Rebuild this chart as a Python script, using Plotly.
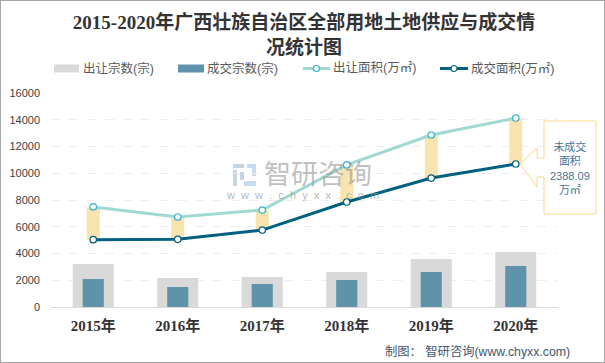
import plotly.graph_objects as go

W, H = 605, 363
years = ["2015年", "2016年", "2017年", "2018年", "2019年", "2020年"]
supply_count = [3215, 2170, 2240, 2620, 3590, 4110]
deal_count = [2090, 1495, 1720, 2020, 2620, 3065]
supply_area = [7480, 6730, 7250, 10620, 12860, 14130]
deal_area = [5030, 5060, 5750, 7850, 9640, 10690]
y_ticks = [0, 2000, 4000, 6000, 8000, 10000, 12000, 14000, 16000]
gap = [round(a - b, 2) for a, b in zip(supply_area, deal_area)]
legend_labels = ["出让宗数(宗)", "成交宗数(宗)", "出让面积(万㎡)", "成交面积(万㎡)"]
title_lines = ["2015-2020年广西壮族自治区全部用地土地供应与成交情", "况统计图"]
callout_text = "未成交<br>面积<br>2388.09<br>万㎡"
source_text = "制图： 智研咨询(www.chyxx.com)"

SANS = "'Liberation Sans','Noto Sans CJK SC',sans-serif"
SERIF = "'Liberation Serif','Noto Sans CJK SC',serif"
GRAY, BLUE, TEAL, NAVY, YELLOW = "#d9d9d9", "#5f93aa", "#a0d8d2", "#00607f", "#f9e3ae"


def px(x):
    return x / W


def py(y):
    return 1 - y / H


fig = go.Figure()
fig.add_bar(x=years, y=supply_count, width=0.486, marker=dict(color=GRAY, line_width=0), name=legend_labels[0])
fig.add_bar(x=years, y=deal_count, width=0.25, marker=dict(color=BLUE, line_width=0), name=legend_labels[1])
fig.add_bar(x=years, y=gap, base=deal_area, width=0.154, marker=dict(color=YELLOW, line_width=0), name="未成交面积")
fig.add_scatter(x=years, y=supply_area, mode="lines+markers", name=legend_labels[2],
                line=dict(color=TEAL, width=3),
                marker=dict(size=6.5, color="white", line=dict(color="#35b3d6", width=1.2)))
fig.add_scatter(x=years, y=deal_area, mode="lines+markers", name=legend_labels[3],
                line=dict(color=NAVY, width=3),
                marker=dict(size=6.5, color="white", line=dict(color=NAVY, width=1.2)))

shapes, annotations = [], []


def text(x, y, s, size, color, font=SANS, anchor="center", **kw):
    annotations.append(dict(xref="paper", yref="paper", x=px(x), y=py(y), text=s, showarrow=False,
                            xanchor=anchor, yanchor="middle", xshift=0, borderpad=0, borderwidth=0,
                            font=dict(family=font, size=size, color=color), **kw))


# frame
shapes.append(dict(type="rect", xref="paper", yref="paper", x0=0, x1=1, y0=0, y1=1,
                   line=dict(color="#a6a6a6", width=2), layer="above"))

# title second line
text(W / 2 + 1.5, 47, "<b>" + title_lines[1] + "</b>", 19, "#333333", SERIF)


# legend
def swatch(x0, x1, color):
    shapes.append(dict(type="rect", xref="paper", yref="paper", x0=px(x0), x1=px(x1), y0=py(72.5), y1=py(64.5),
                       fillcolor=color, line_width=0))


def line_key(x0, x1, color, edge):
    shapes.append(dict(type="line", xref="paper", yref="paper", x0=px(x0), x1=px(x1), y0=py(68.5), y1=py(68.5),
                       line=dict(color=color, width=3)))
    c = (x0 + x1) / 2
    shapes.append(dict(type="circle", xref="paper", yref="paper", x0=px(c - 3), x1=px(c + 3), y0=py(71.5), y1=py(65.5),
                       fillcolor="white", line=dict(color=edge, width=1.2)))


swatch(54, 79, GRAY)
swatch(178, 204, BLUE)
line_key(303, 330, TEAL, "#35b3d6")
line_key(440, 468, NAVY, NAVY)
for lx, lab in zip([83, 207, 333, 471], legend_labels):
    text(lx, 68.5, lab, 12.5, "#595959", anchor="left")

# callout
pts = [(544, 121), (596, 121), (596, 214), (544, 214), (544, 177), (537, 177), (537, 187), (520, 164),
       (537, 148), (537, 158), (544, 158)]
path = "M " + " L ".join(f"{px(a):.5f},{py(b):.5f}" for a, b in pts) + " Z"
shapes.append(dict(type="path", xref="paper", yref="paper", path=path, fillcolor="white",
                   line=dict(color="#fbd98a", width=1), layer="above"))
text(570, 167.5, callout_text, 11, "#44749a")

# watermark
for x0, y0, x1, y1, col in [(233, 164, 244, 168, "#c9d2e3"), (233, 170, 237, 186, "#c9d2e3"),
                            (240, 172, 244, 180, "#c9d2e3"), (247, 164, 256, 168, "#c5dcef"),
                            (252, 168, 256, 176, "#c5dcef"), (244, 181, 256, 186, "#c5dcef")]:
    shapes.append(dict(type="rect", xref="paper", yref="paper", x0=px(x0), x1=px(x1), y0=py(y1), y1=py(y0),
                       fillcolor=col, line_width=0, layer="below"))
text(318, 175, "智研咨询", 27, "rgba(150,150,150,0.6)")
text(302, 195, "w  w  w  .  c  h  y  x  x  .  c  o  m".replace(" ", "&nbsp;"), 11, "rgba(150,150,150,0.7)")

# source
text(385, 351, source_text, 12.3, "#44546a", anchor="left")

fig.update_layout(
    width=W, height=H, autosize=False,
    margin=dict(l=0, r=0, t=0, b=0),
    paper_bgcolor="white", plot_bgcolor="white",
    barmode="overlay", showlegend=False, hovermode=False,
    title=dict(text="<b>" + title_lines[0] + "</b>", x=px(W / 2 + 1.5), xanchor="center", xref="paper",
               y=py(22.5), yanchor="middle", yref="container", automargin=False,
               font=dict(family=SERIF, size=19, color="#333333")),
    xaxis=dict(domain=[px(51), px(558)], type="category", showgrid=False, showline=True, linecolor="#d9d9d9",
               linewidth=1, ticks="", anchor="y", automargin=False, ticklabelstandoff=5,
               tickfont=dict(family=SERIF, size=15, color="#333333", weight="bold")),
    yaxis=dict(domain=[py(307), py(93)], range=[0, 16000], tickvals=y_ticks, tickformat="d", showline=False,
               zeroline=False, automargin=False, ticklabelstandoff=10,
               gridcolor="#eeeeee", griddash="dash", gridwidth=1, ticks="", anchor="x",
               tickfont=dict(family=SANS, size=11, color="#404040")),
    shapes=shapes, annotations=annotations,
)
fig.write_html("out.html", config={"displayModeBar": False},
               post_script="document.body.style.margin='0';")
